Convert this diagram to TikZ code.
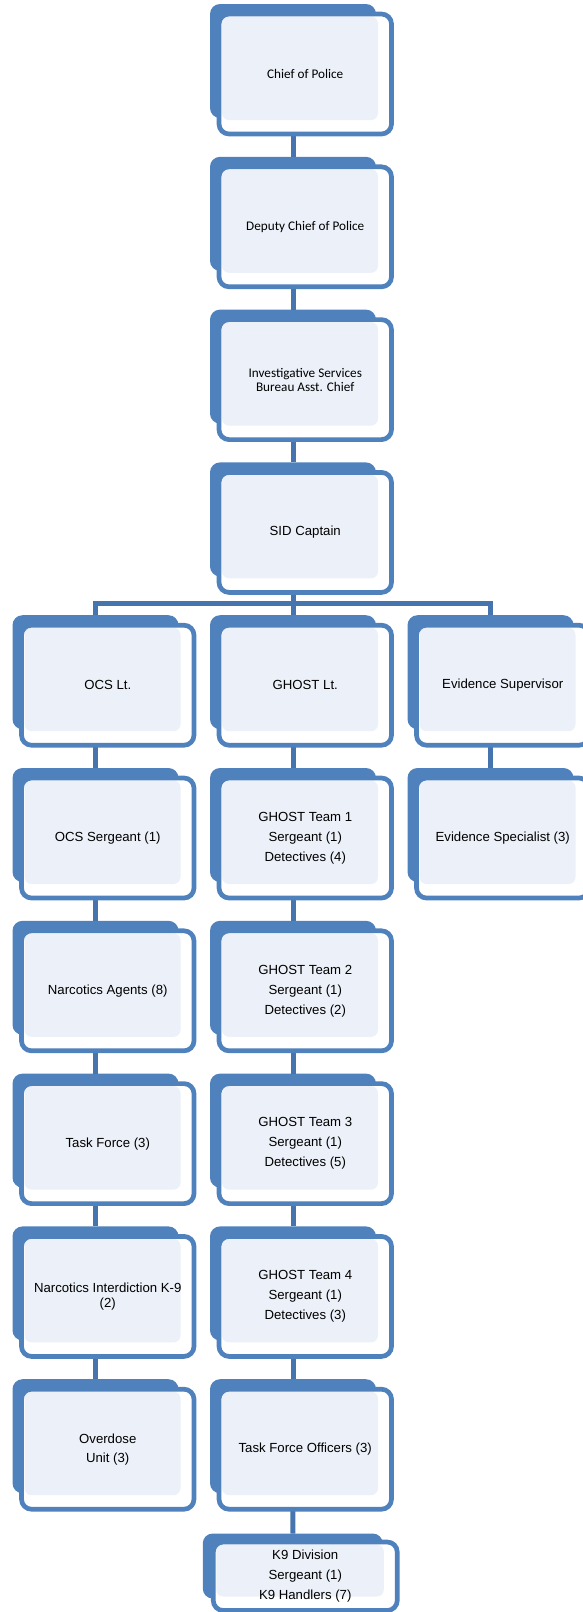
\documentclass[tikz,border=0pt]{standalone}
\usepackage{fontspec}
\setmainfont{Liberation Sans}
\newfontfamily\calibri{Carlito}
\usetikzlibrary{positioning, backgrounds, calc}
\definecolor{boxblue}{HTML}{4F81BD}
\definecolor{lineblue}{HTML}{4674AE}
\definecolor{paleblue}{HTML}{ECF0F8}
\tikzset{
  unitbox/.style={
    rectangle, rounded corners=10pt, draw=boxblue, line width=4.7pt, fill=white,
    minimum width=172.5pt, minimum height=120pt, inner sep=0pt, outer sep=0pt,
    align=center, font=\fontsize{13.2}{15}\selectfont,
    path picture={\fill[paleblue, rounded corners=7pt]
      ([shift={(3pt,-2.5pt)}]path picture bounding box.north west) rectangle
      ([shift={(-13.5pt,14pt)}]path picture bounding box.south east);}
  },
  backbox/.style={
    rectangle, rounded corners=10pt, fill=boxblue, minimum width=166pt,
    minimum height=114pt, inner sep=0pt, outer sep=0pt
  },
  connector/.style={draw=lineblue, line width=5pt},
  calib/.style={font=\calibri\fontsize{13.2}{15}\selectfont},
  tall/.style={font=\fontsize{13.2}{20}\selectfont}
}

\begin{document}
\begin{tikzpicture}[x=1pt, y=-1pt, node distance=32.8pt and 25pt]
  \useasboundingbox (0,0) rectangle (582,1612);
  % command chain
  \node[unitbox, calib] (chief) at (305.25,74) {Chief of Police};
  \node[unitbox, calib, below=of chief] (deputy) {Deputy Chief of Police};
  \node[unitbox, calib, below=of deputy, font=\calibri\fontsize{13.2}{14}\selectfont] (isb)
    {Investigative Services\\Bureau Asst. Chief};
  \node[unitbox, below=of isb] (sid) {SID Captain};
  % lieutenants and supervisor
  \node[unitbox, below=of sid] (ghostlt) {GHOST Lt.};
  \node[unitbox, left=of ghostlt] (ocslt) {OCS Lt.};
  \node[unitbox, right=of ghostlt] (evsup) {Evidence Supervisor};
  % OCS side
  \node[unitbox, below=of ocslt] (ocssgt) {OCS Sergeant (1)};
  \node[unitbox, below=of ocssgt] (narc) {Narcotics Agents (8)};
  \node[unitbox, below=of narc] (taskforce) {Task Force (3)};
  \node[unitbox, below=of taskforce] (interdiction) {Narcotics Interdiction K-9\\(2)};
  \node[unitbox, below=of interdiction, font=\fontsize{13.2}{19}\selectfont] (overdose)
    {Overdose\\Unit (3)};
  % GHOST side
  \node[unitbox, tall, below=of ghostlt] (ghost1) {GHOST Team 1\\Sergeant (1)\\Detectives (4)};
  \node[unitbox, tall, below=of ghost1] (ghost2) {GHOST Team 2\\Sergeant (1)\\Detectives (2)};
  \node[unitbox, tall, below=of ghost2] (ghost3) {GHOST Team 3\\Sergeant (1)\\Detectives (5)};
  \node[unitbox, tall, below=of ghost3] (ghost4) {GHOST Team 4\\Sergeant (1)\\Detectives (3)};
  \node[unitbox, below=of ghost4] (tfo) {Task Force Officers (3)};
  \node[unitbox, tall, below=of tfo, minimum width=184pt, minimum height=68.5pt] (k9)
    {K9 Division\\Sergeant (1)\\K9 Handlers (7)};
  % evidence side
  \node[unitbox, below=of evsup] (evspec) {Evidence Specialist (3)};

  \begin{scope}[on background layer]
    \foreach \n in {chief, deputy, isb, sid, ocslt, ghostlt, evsup, ocssgt, ghost1, evspec,
                    narc, ghost2, taskforce, ghost3, interdiction, ghost4, overdose, tfo}
      \node[backbox] (\n-b) at ([shift={(-12.25pt,13pt)}]\n.center) {};
    \node[backbox, minimum width=180pt, minimum height=65pt] (k9-b)
      at ([shift={(-12.5pt,10.25pt)}]k9.center) {};

    \foreach \a/\b in {chief/deputy, deputy/isb, isb/sid,
                       ocslt/ocssgt, ocssgt/narc, narc/taskforce, taskforce/interdiction,
                       interdiction/overdose, ghostlt/ghost1, ghost1/ghost2, ghost2/ghost3,
                       ghost3/ghost4, ghost4/tfo, tfo/k9, evsup/evspec}
      \draw[connector] (\a.south -| \a-b) -- (\b-b.north);

    \coordinate (split) at ($(sid.south -| sid-b)!0.5!(ghostlt-b.north)$);
    \draw[connector] (sid.south -| sid-b) -- (split) -- (ghostlt-b.north);
    \draw[connector] (ocslt-b.north) |- (split) -| (evsup-b.north);
  \end{scope}
\end{tikzpicture}
\end{document}
